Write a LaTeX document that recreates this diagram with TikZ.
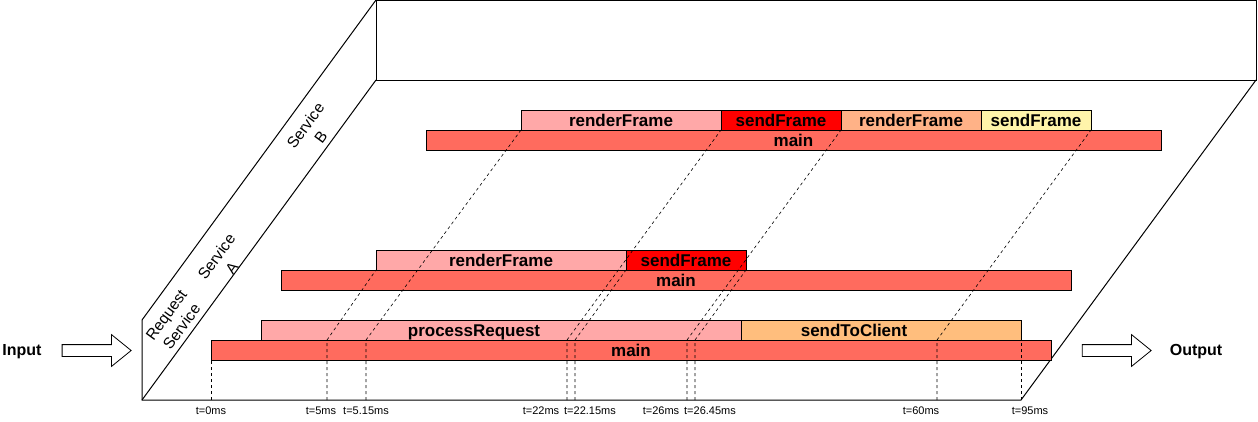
\documentclass[tikz,border=0pt]{standalone}
\usepackage{fontspec}
\setmainfont{Liberation Sans}
\usetikzlibrary{positioning, shapes.arrows}
\definecolor{mainred}{HTML}{FF6B5E}
\definecolor{lightpink}{HTML}{FFA8A8}
\definecolor{sendred}{HTML}{FF0000}
\definecolor{lightorange}{HTML}{FFBE7D}
\definecolor{peach}{HTML}{FFB287}
\definecolor{paleyellow}{HTML}{FFF4AA}
\tikzstyle{guide} = [dash pattern=on 3pt off 3pt, line width=0.6pt]

\begin{document}
\begin{tikzpicture}[
	x=1pt, y=-1pt,
	every node/.style={font=\fontsize{16}{19}\selectfont},
	bar/.style={rectangle, draw=black, line width=1pt, minimum height=20pt, inner sep=0pt, outer sep=0pt, text height=13pt, text depth=0pt, font=\fontsize{17}{19}\selectfont\bfseries},
	lane/.style={align=center, rotate=53.8, font=\fontsize{15.5}{19}\selectfont},
	tlabel/.style={font=\fontsize{11}{13}\selectfont, inner sep=0pt},
	fatarrow/.style={single arrow, draw=black, line width=0.8pt, fill=white, minimum height=69pt, inner xsep=0pt, inner ysep=5.5pt, single arrow head extend=10pt, single arrow tip angle=78}
]
\useasboundingbox (0,0) rectangle (1258,421);

% Frame of the three lanes
\draw[line width=1pt] (142,320) -- (142,400) -- (1021,400) -- (1256,80);
\draw[line width=1pt] (142,320) -- (376,0);
\draw[line width=1pt] (142,400) -- (376,80);
\draw[line width=1pt] (376,0) rectangle (1256,80);

% Lane labels
\node[lane] (lblReq) at (174,321) {Request\\Service};
\node[lane] (lblA) at (224,262) {Service\\A};
\node[lane] (lblB) at (313,131) {Service\\B};

% Request Service
\node[bar, fill=mainred, minimum width=840pt, anchor=south west] (mainReq) at (211,360) {main};
\node[bar, fill=lightpink, minimum width=480pt, anchor=south west] (procReq) at (261,340) {processRequest\hspace*{54pt}};
\node[bar, fill=lightorange, minimum width=280pt, right=0pt of procReq] (sendCl) {sendToClient\hspace*{54pt}};

% Service A
\node[bar, fill=mainred, minimum width=790pt, anchor=south west] (mainA) at (281,290) {main};
\node[bar, fill=lightpink, minimum width=250pt, anchor=south west] (renderA) at (376,270) {renderFrame};
\node[bar, fill=sendred, minimum width=120pt, right=0pt of renderA] (sendA) {sendFrame};

% Service B
\node[bar, fill=mainred, minimum width=735pt, anchor=south west] (mainB) at (426,150) {main};
\node[bar, fill=lightpink, minimum width=200pt, anchor=south west] (renderB) at (521,130) {renderFrame};
\node[bar, fill=sendred, minimum width=120pt, right=0pt of renderB] (sendB) {sendFrame};
\node[bar, fill=peach, minimum width=140pt, right=0pt of sendB] (renderBb) {renderFrame};
\node[bar, fill=paleyellow, minimum width=110pt, right=0pt of renderBb] (sendBb) {sendFrame};

% Time axis
\coordinate (t0) at (211,400);
\coordinate (t5) at (327,400);
\coordinate (t515) at (366,400);
\coordinate (t22) at (567,400);
\coordinate (t2215) at (575,400);
\coordinate (t26) at (687,400);
\coordinate (t2645) at (695,400);
\coordinate (t60) at (937,400);
\coordinate (t95) at (1021,400);

\node[tlabel] (lbl0) at (211,411) {t=0ms};
\node[tlabel] (lbl5) at (321,411) {t=5ms};
\node[tlabel] (lbl515) at (366,411) {t=5.15ms};
\node[tlabel] (lbl22) at (541,411) {t=22ms};
\node[tlabel] (lbl2215) at (590,411) {t=22.15ms};
\node[tlabel] (lbl26) at (661,411) {t=26ms};
\node[tlabel] (lbl2645) at (710,411) {t=26.45ms};
\node[tlabel] (lbl60) at (921,411) {t=60ms};
\node[tlabel] (lbl95) at (1030,411) {t=95ms};

% Guide lines
\draw[guide] (t0) -- (mainReq.south west);
\draw[guide] (t5) -- (t5 |- procReq.south) -- (renderA.south west);
\draw[guide] (t515) -- (t515 |- procReq.south) -- (renderB.south west);
\draw[guide] (t22) -- (t22 |- procReq.south) -- (sendB.south west);
\draw[guide] (t2215) -- (t2215 |- procReq.south) -- (sendA.south west);
\draw[guide] (t26) -- (t26 |- procReq.south) -- (renderBb.south west);
\draw[guide] (t2645) -- (t2645 |- procReq.south) -- (sendA.south east);
\draw[guide] (t60) -- (t60 |- procReq.south) -- (sendBb.south east);
\draw[guide] (t95) -- (sendCl.south east);

% Input and output
\node (input) at (22,352) {\bfseries Input};
\node[fatarrow] (inArrow) at (93,350.5) {};
\node[fatarrow] (outArrow) at (1113,350.5) {};
\node (output) at (1196,352) {\bfseries Output};

\end{tikzpicture}
\end{document}
